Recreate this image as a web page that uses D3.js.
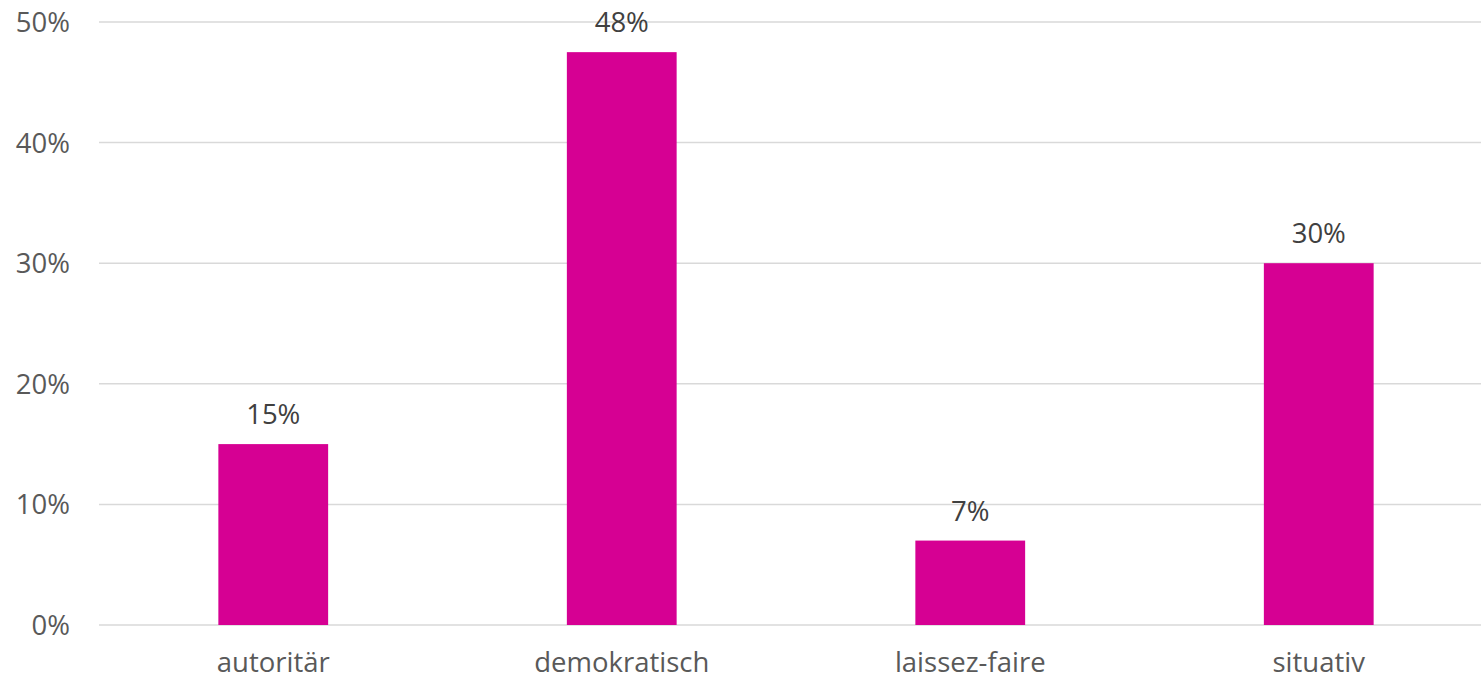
<!DOCTYPE html>
<html><head><meta charset="utf-8">
<script src="https://cdn.jsdelivr.net/npm/d3@7"></script>
<style>body{margin:0;background:#fff}svg{display:block}text{font-family:"Open Sans",sans-serif}</style>
</head><body><svg id="c" width="1481" height="680"></svg>
<script>
const categories = ["autoritär","demokratisch","laissez-faire","situativ"];
const values = [15, 47.5, 7, 30];
const labels = ["15%","48%","7%","30%"];
const yTicks = [0,10,20,30,40,50];

const svg = d3.select("#c");
const W = 1481;
const x = d3.scaleBand().domain(categories).range([99, 99+4*348.5]).paddingInner(0.685).paddingOuter(0.3425);
const y = d3.scaleLinear().domain([0,50]).range([625, 22]);

const g = svg.append("g");
g.selectAll("line.grid").data(yTicks).join("line")
  .attr("x1",99).attr("x2",W).attr("y1",d=>y(d)).attr("y2",d=>y(d))
  .attr("stroke","#d9d9d9").attr("stroke-width",1.5);
g.selectAll("text.yt").data(yTicks).join("text")
  .attr("x",70).attr("y",d=>y(d)).attr("dy","0.36em").attr("text-anchor","end")
  .attr("font-size",27.5).attr("fill","#595959").text(d=>d+"%");
g.selectAll("rect").data(values).join("rect")
  .attr("x",(d,i)=>x(categories[i])).attr("width",x.bandwidth())
  .attr("y",d=>y(d)).attr("height",d=>y(0)-y(d)).attr("fill","#d60093");
g.selectAll("text.lab").data(values).join("text")
  .attr("x",(d,i)=>x(categories[i])+x.bandwidth()/2).attr("y",d=>y(d)-20)
  .attr("text-anchor","middle").attr("font-size",27.5).attr("fill","#404040").text((d,i)=>labels[i]);
g.selectAll("text.cat").data(categories).join("text")
  .attr("x",d=>x(d)+x.bandwidth()/2).attr("y",672)
  .attr("text-anchor","middle").attr("font-size",27.5).attr("fill","#595959").text(d=>d);
</script></body></html>
